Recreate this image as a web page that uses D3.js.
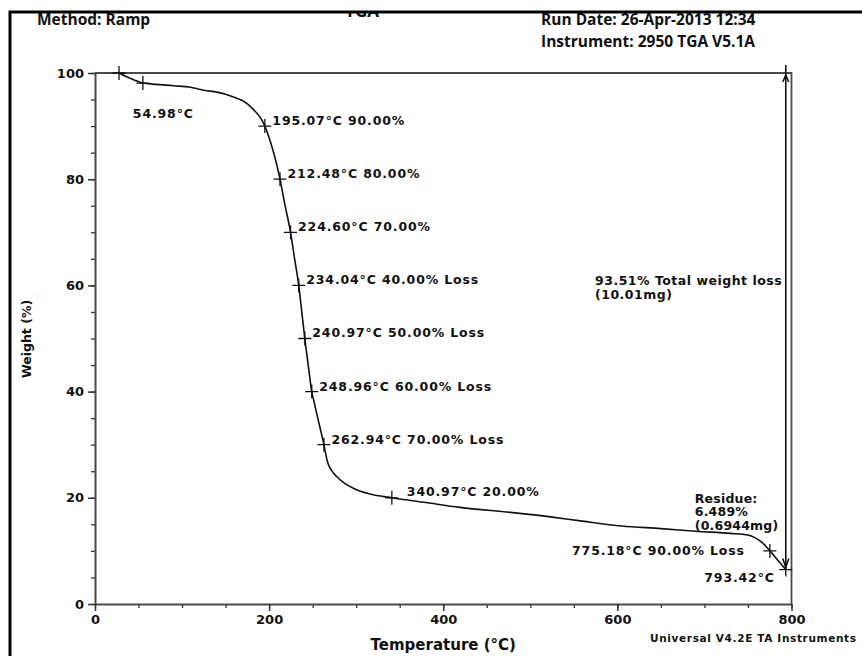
<!DOCTYPE html>
<html>
<head>
<meta charset="utf-8">
<script src="https://cdn.jsdelivr.net/npm/d3@7/dist/d3.min.js"></script>
<style>
  html, body { margin: 0; padding: 0; background: #fff; }
  svg { display: block; }
  .hdr { font-family: "Open Sans", "DejaVu Sans", sans-serif; font-weight: 700; font-size: 15.5px; fill: #111; }
  .ann { font-family: "DejaVu Sans", sans-serif; font-weight: 700; font-size: 12.5px; fill: #111; letter-spacing: 0.85px; }
  .tick text { font-family: "DejaVu Sans", sans-serif; font-weight: 700; font-size: 13px; fill: #111; }
</style>
</head>
<body>
<svg id="chart" width="862" height="656"></svg>
<script>
// Thermogravimetric curve: temperature (°C) vs remaining weight (%)
const curveTemps = [27.6, 35, 45, 54.98, 70, 90, 110, 118, 125, 140, 150, 159, 168, 175, 181, 186, 191,
  195.07, 200, 206, 212.48, 218, 224.60, 229, 234.04, 237.5, 240.97, 244.9, 248.96, 252, 256, 262.94,
  264.5, 267, 271.5, 277.6, 286, 296.7, 315.9, 340.97, 380, 419, 480, 523, 560, 605, 650, 690, 730, 750, 758,
  766, 775.18, 785, 793.42];
const curveWeights = [100, 99.4, 98.7, 98.1, 97.85, 97.6, 97.3, 97.0, 96.75, 96.4, 96.0, 95.5, 94.9, 94.2, 93.3, 92.4, 91.3,
  90, 87.8, 84.5, 80, 75.3, 70, 65.3, 60, 55, 50, 45, 40, 37.8, 34.9, 30,
  28.7, 26.8, 25.2, 24.0, 22.8, 21.8, 20.7, 20.0, 19.1, 18.2, 17.2, 16.4, 15.6, 14.7, 14.2, 13.7, 13.3, 13.0, 12.5,
  11.6, 10.0, 8.1, 6.489];

// Marked analysis points
const markTemps   = [27.6, 54.98, 195.07, 212.48, 224.60, 234.04, 240.97, 248.96, 262.94, 340.97, 775.18, 793.42];
const markWeights = [100, 98.1, 90, 80, 70, 60, 50, 40, 30, 20, 10, 6.489];
const markKinds   = ["none", "temp", "pct", "pct", "pct", "loss", "loss", "loss", "loss", "pct", "loss", "temp"];

// Residue / total loss
const residuePct = 6.489;
const residueMg = 0.6944;
const totalLossMg = 10.01;
const residueTemp = 793.42;

// Axes
const xTicks = [0, 200, 400, 600, 800];
const yTicks = [0, 20, 40, 60, 80, 100];

// Header texts
const titleText = "TGA";
const methodText = "Method: Ramp";
const runDateText = "Run Date: 26-Apr-2013 12:34";
const instrumentText = "Instrument: 2950 TGA V5.1A";
const footerText = "Universal V4.2E TA Instruments";
const xTitle = "Temperature (°C)";
const yTitle = "Weight (%)";

// ---- layout ----
const labelLayout = [
  null,
  { dx: -10, dy: 30.5, anchor: "start" },
  { dx: 7.5, dy: -5.5, anchor: "start" },
  { dx: 7.5, dy: -5.5, anchor: "start" },
  { dx: 7.5, dy: -5.5, anchor: "start" },
  { dx: 7.5, dy: -6, anchor: "start" },
  { dx: 7.5, dy: -5.5, anchor: "start" },
  { dx: 7.5, dy: -5, anchor: "start" },
  { dx: 7.5, dy: -5.5, anchor: "start" },
  { dx: 15, dy: -6, anchor: "start" },
  { dx: -25, dy: 0, anchor: "end" },
  { dx: -11, dy: 8.5, anchor: "end" }
];

const svg = d3.select("#chart");
const x = d3.scaleLinear().domain([0, 800]).range([95, 791.5]);
const y = d3.scaleLinear().domain([0, 100]).range([604, 73]);

// page border
svg.append("path").attr("d", "M10,656V12H862").attr("fill", "none").attr("stroke", "#000").attr("stroke-width", 3);

// title, cut off by the top border
svg.append("clipPath").attr("id", "titleClip").append("rect").attr("x", 0).attr("y", 13).attr("width", 862).attr("height", 10);
svg.append("text").attr("clip-path", "url(#titleClip)").attr("class", "hdr")
  .attr("x", 362).attr("y", 16.5).attr("text-anchor", "middle").style("font-size", "17px").text(titleText);

svg.append("text").attr("class", "hdr").attr("x", 37).attr("y", 25).text(methodText);
svg.append("text").attr("class", "hdr").attr("x", 541).attr("y", 25).text(runDateText);
svg.append("text").attr("class", "hdr").attr("x", 541).attr("y", 47).text(instrumentText);

// frame (top and right)
svg.append("path")
  .attr("d", `M${x(0)},${y(100)}H${x(800)}V${y(0)}`)
  .attr("fill", "none").attr("stroke", "#4a4a4a").attr("stroke-width", 1.8);

// minor ticks
svg.append("g").attr("transform", `translate(${x(0)},0)`)
  .call(d3.axisLeft(y).tickValues(d3.range(0, 101, 5)).tickSize(4).tickFormat(""))
  .call(g => g.select(".domain").remove())
  .call(g => g.selectAll("line").attr("stroke", "#333").attr("stroke-width", 1.3));
svg.append("g").attr("transform", `translate(0,${y(0)})`)
  .call(d3.axisBottom(x).tickValues(d3.range(0, 801, 50)).tickSize(4).tickFormat(""))
  .call(g => g.select(".domain").remove())
  .call(g => g.selectAll("line").attr("stroke", "#333").attr("stroke-width", 1.3));

// major axes
const yAxis = svg.append("g").attr("transform", `translate(${x(0)},0)`)
  .call(d3.axisLeft(y).tickValues(yTicks).tickSize(7).tickPadding(4).tickSizeOuter(0));
const xAxis = svg.append("g").attr("transform", `translate(0,${y(0)})`)
  .call(d3.axisBottom(x).tickValues(xTicks).tickSize(7).tickPadding(4).tickSizeOuter(0));
[yAxis, xAxis].forEach(a => {
  a.select(".domain").attr("stroke", "#4a4a4a").attr("stroke-width", 2);
  a.selectAll(".tick line").attr("stroke", "#333").attr("stroke-width", 1.5);
});

// axis titles
svg.append("text").attr("x", (x(0) + x(800)) / 2).attr("y", 645).attr("dy", "0.35em")
  .attr("text-anchor", "middle")
  .style("font-family", "DejaVu Sans, sans-serif").style("font-weight", 700).style("font-size", "15px")
  .attr("fill", "#111").text(xTitle);
svg.append("text").attr("transform", "translate(27,339) rotate(-90)").attr("dy", "0.35em")
  .attr("text-anchor", "middle")
  .style("font-family", "DejaVu Sans, sans-serif").style("font-weight", 700).style("font-size", "12.5px")
  .attr("fill", "#111").text(yTitle);

// footer
svg.append("text").attr("x", 650).attr("y", 638).attr("dy", "0.35em")
  .style("font-family", "DejaVu Sans, sans-serif").style("font-weight", 700).style("font-size", "10.5px")
  .style("letter-spacing", "0.65px").attr("fill", "#111").text(footerText);

// the curve
const pts = curveTemps.map((t, i) => [t, curveWeights[i]]);
svg.append("path").datum(pts)
  .attr("d", d3.line().x(d => x(d[0])).y(d => y(d[1])).curve(d3.curveMonotoneX))
  .attr("fill", "none").attr("stroke", "#111").attr("stroke-width", 1.6);

// total loss arrow
const ax = x(residueTemp);
svg.append("line").attr("x1", ax).attr("x2", ax).attr("y1", y(100) - 8).attr("y2", y(residuePct))
  .attr("stroke", "#111").attr("stroke-width", 1.6);
svg.append("path").attr("d", `M${ax - 3},${y(100) + 9}L${ax},${y(100) + 2}L${ax + 3},${y(100) + 9}`)
  .attr("fill", "none").attr("stroke", "#111").attr("stroke-width", 1.5);
svg.append("path").attr("d", `M${ax - 3},${y(residuePct) - 11}L${ax},${y(residuePct) - 2}L${ax + 3},${y(residuePct) - 11}`)
  .attr("fill", "none").attr("stroke", "#111").attr("stroke-width", 1.5);

// markers
const marks = markTemps.map((t, i) => ({ t, w: markWeights[i], kind: markKinds[i], lay: labelLayout[i] }));
const mg = svg.append("g");
marks.forEach(m => {
  const px = x(m.t), py = y(m.w);
  mg.append("path").attr("d", `M${px - 6.5},${py}H${px + 6.5}M${px},${py - 7}V${py + 7}`)
    .attr("stroke", "#111").attr("stroke-width", 1.3);
  if (m.kind === "none") return;
  let txt;
  if (m.kind === "temp") txt = `${m.t.toFixed(2)}°C`;
  else if (m.kind === "pct") txt = `${m.t.toFixed(2)}°C ${m.w.toFixed(2)}%`;
  else txt = `${m.t.toFixed(2)}°C ${(100 - m.w).toFixed(2)}% Loss`;
  mg.append("text").attr("class", "ann")
    .attr("x", px + m.lay.dx).attr("y", py + m.lay.dy).attr("dy", "0.35em")
    .attr("text-anchor", m.lay.anchor).text(txt);
});

// residue and total loss notes
const resLines = ["Residue:", `${residuePct.toFixed(3)}%`, `(${residueMg.toFixed(4)}mg)`];
resLines.forEach((s, i) => {
  svg.append("text").attr("class", "ann").style("letter-spacing", "0.2px")
    .attr("x", ax - 91).attr("y", 498.5 + i * 13.5).attr("dy", "0.35em").text(s);
});
const lossLines = [`${(100 - residuePct).toFixed(2)}% Total weight loss`, `(${totalLossMg.toFixed(2)}mg)`];
lossLines.forEach((s, i) => {
  svg.append("text").attr("class", "ann").style("letter-spacing", "0.5px")
    .attr("x", 595).attr("y", 281 + i * 13.5).attr("dy", "0.35em").text(s);
});
</script>
</body>
</html>
